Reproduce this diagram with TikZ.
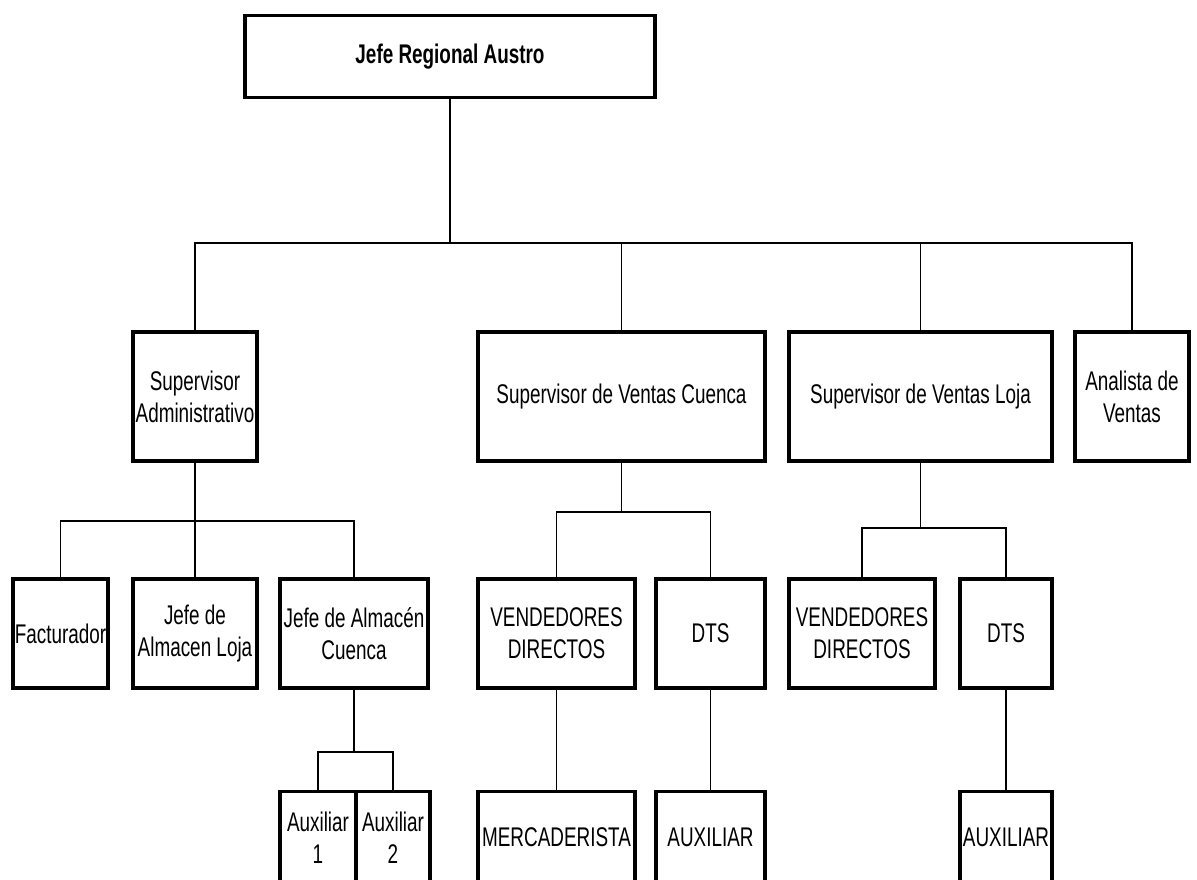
\documentclass[tikz,border=0pt]{standalone}
\usepackage{fontspec}
\setmainfont{Liberation Sans}[FakeStretch=0.7]

\tikzset{
    cargo/.style={draw, line width=3.2pt, align=center, inner sep=0pt, font=\fontsize{27}{32}\selectfont},
    linea/.style={line width=1.3pt}
}

\begin{document}
\begin{tikzpicture}[x=1pt, y=-1pt]
        \useasboundingbox (0,0) rectangle (1197,880);
        \clip (0,0) rectangle (1197,880);

        %% jefe regional
        \node [cargo, minimum width=410, minimum height=82, font=\bfseries\fontsize{27}{32}\selectfont] (jefe) at (450,56.5) {Jefe Regional Austro};

        %% supervisores
        \node [cargo, minimum width=124, minimum height=129] (sadm) at (195,396.5) {Supervisor\\Administrativo};
        \node [cargo, minimum width=287, minimum height=129] (svc) at (621.5,396.5) {Supervisor de Ventas Cuenca};
        \node [cargo, minimum width=263, minimum height=129] (svl) at (920.5,396.5) {Supervisor de Ventas Loja};
        \node [cargo, minimum width=114, minimum height=129] (ana) at (1132,396.5) {Analista de\\Ventas};

        %% tercer nivel
        \node [cargo, minimum width=95, minimum height=109] (fact) at (60.5,633.5) {Facturador};
        \node [cargo, minimum width=124, minimum height=109] (jal) at (195,633.5) {Jefe de\\Almacen Loja};
        \node [cargo, minimum width=148, minimum height=109] (jac) at (354,633.5) {Jefe de Almacén\\Cuenca};
        \node [cargo, minimum width=157, minimum height=109] (vdc) at (556.5,633.5) {VENDEDORES\\DIRECTOS};
        \node [cargo, minimum width=109, minimum height=109] (dtsc) at (710.5,633.5) {DTS};
        \node [cargo, minimum width=146, minimum height=109] (vdl) at (862,633.5) {VENDEDORES\\DIRECTOS};
        \node [cargo, minimum width=92, minimum height=109] (dtsl) at (1006,633.5) {DTS};

        %% cuarto nivel (cortado abajo)
        \node [cargo, minimum width=76, minimum height=92] (aux1) at (318,837.5) {Auxiliar\\1};
        \node [cargo, minimum width=74, minimum height=92] (aux2) at (393,837.5) {Auxiliar\\2};
        \node [cargo, minimum width=157, minimum height=92] (merc) at (556.5,837.5) {MERCADERISTA};
        \node [cargo, minimum width=109, minimum height=92] (auxc) at (710.5,837.5) {AUXILIAR};
        \node [cargo, minimum width=92, minimum height=92] (auxl) at (1006,837.5) {AUXILIAR};

        %% conectores
        \coordinate (b0) at (jefe.south |- 0,243);
        \draw [linea] (jefe) -- (b0);
        \foreach \n in {sadm,svc,svl,ana} \draw [linea] (\n.north) |- (b0);

        \coordinate (b1) at (sadm.south |- 0,521);
        \draw [linea] (sadm) -- (b1);
        \foreach \n in {fact,jal,jac} \draw [linea] (\n.north) |- (b1);

        \coordinate (b2) at (svc.south |- 0,512);
        \draw [linea] (svc) -- (b2);
        \foreach \n in {vdc,dtsc} \draw [linea] (\n.north) |- (b2);

        \coordinate (b3) at (svl.south |- 0,528);
        \draw [linea] (svl) -- (b3);
        \foreach \n in {vdl,dtsl} \draw [linea] (\n.north) |- (b3);

        \coordinate (b4) at (jac.south |- 0,752);
        \draw [linea] (jac) -- (b4);
        \foreach \n in {aux1,aux2} \draw [linea] (\n.north) |- (b4);

        \draw [linea] (vdc) -- (merc);
        \draw [linea] (dtsc) -- (auxc);
        \draw [linea] (dtsl) -- (auxl);

\end{tikzpicture}
\end{document}
